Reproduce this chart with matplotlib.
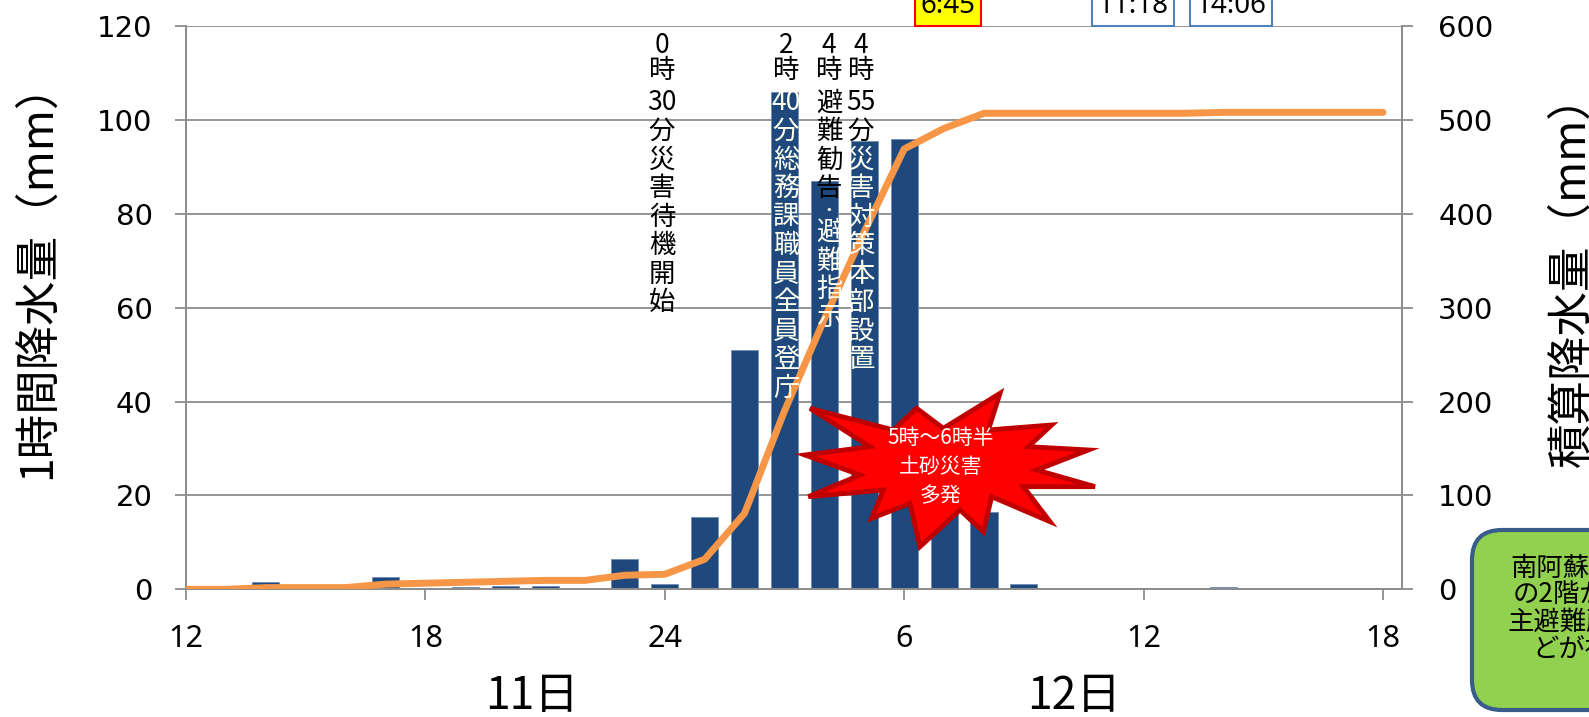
import matplotlib
matplotlib.use("Agg")
import matplotlib.pyplot as plt
from matplotlib.patches import Polygon, FancyBboxPatch

plt.rcParams["font.family"] = ["Noto Sans CJK JP", "DejaVu Sans"]

# hourly data, 11th 12:00 .. 12th 18:00 (hour 24 = midnight, 30 = 6 am on the 12th)
hours = list(range(12, 43))
hourly_rain = [0, 0, 1.5, 0, 0, 2.6, 0, 0.4, 0.7, 0.8, 0, 6.5, 1.1, 15.5, 51.0,
               106.0, 87.0, 95.5, 96.0, 23.0, 16.5, 1.1, 0, 0, 0, 0, 0.5, 0, 0, 0, 0]
cumulative_rain = [0, 0, 1.8, 1.8, 1.8, 5.5, 6.5, 7.5, 8.5, 9.5, 9.5, 15, 16, 32, 81,
                   190, 288, 381, 469, 491, 507, 507, 507, 507, 507, 507, 508, 508, 508, 508, 508]

x_ticks = [12, 18, 24, 30, 36, 42]
x_tick_labels = ["12", "18", "24", "6", "12", "18"]
left_ticks = [0, 20, 40, 60, 80, 100, 120]
right_ticks = [0, 100, 200, 300, 400, 500, 600]

# vertical notes: (column x px, characters, how many are drawn in black)
notes = [
    (662, ["0", "時", "30", "分", "災", "害", "待", "機", "開", "始"], 10),
    (786, ["2", "時", "40", "分", "総", "務", "課", "職", "員", "全", "員", "登", "庁"], 2),
    (829, ["4", "時", "避", "難", "勧", "告", "・", "避", "難", "指", "示"], 6),
    (861, ["4", "時", "55", "分", "災", "害", "対", "策", "本", "部", "設", "置"], 4),
]
time_boxes = [("6:45", 948, "#FFFF00", "#FF0000"),
              ("11:18", 1133, "white", "#4F81BD"),
              ("14:06", 1231, "white", "#4F81BD")]
note_lines = [("南阿蘇村の", 1510, 568), ("の2階が浸水", 1513, 595),
              ("主避難所な", 1508, 622), ("どが被災", 1532, 649)]

W, H = 1589, 717
fig = plt.figure(figsize=(W / 100, H / 100), dpi=100)


def fx(px):
    return px / W


def fy(py):
    return 1 - py / H


ax = fig.add_axes([fx(186), fy(589.3), fx(1402) - fx(186), fy(26) - fy(589.3)])
ax2 = ax.twinx()

ax.bar(hours, hourly_rain, width=0.68, color="#1F497D", edgecolor="#6F8DB5",
       linewidth=0.6, zorder=2)
ax2.plot(hours, cumulative_rain, color="#F79646", lw=5, solid_capstyle="round",
         solid_joinstyle="round", zorder=3)

ax.set_xlim(12, 12 + (1402 - 186) / 39.9)
ax.set_ylim(0, 120)
ax2.set_ylim(0, 600)
ax.set_xticks(x_ticks)
ax.set_xticklabels(x_tick_labels, fontsize=22, family=["Noto Sans", "DejaVu Sans"])
ax.set_yticks(left_ticks)
ax.set_yticklabels([str(v) for v in left_ticks], fontsize=21, family="DejaVu Sans")
ax2.set_yticks(right_ticks)
ax2.set_yticklabels([str(v) for v in right_ticks], fontsize=21, family="DejaVu Sans")

grey = "#8C8C8C"
ax.yaxis.grid(True, color=grey, lw=1.3)
ax.set_axisbelow(True)
for a in (ax, ax2):
    a.spines["top"].set_visible(False)
    for s in ("left", "right", "bottom"):
        a.spines[s].set_color(grey)
        a.spines[s].set_linewidth(1.3)
ax.tick_params(axis="x", direction="out", length=8, width=1.3, color=grey, pad=17)
ax.tick_params(axis="y", direction="out", length=8, width=1.3, color=grey, pad=16)
ax2.tick_params(axis="y", direction="out", length=8, width=1.3, color=grey, pad=18)

# axis titles
fig.text(fx(37), fy(270), "1時間降水量（mm）", rotation=90, fontsize=32,
         ha="center", va="center")
fig.text(fx(1572), fy(270), "積算降水量（mm）", rotation=90, fontsize=32,
         ha="center", va="center")
fig.text(fx(532), fy(696), "11日", fontsize=32, ha="center", va="center")
fig.text(fx(1074), fy(696), "12日", fontsize=32, ha="center", va="center")

# vertical event notes
for col_x, chars, n_black in notes:
    ys = [45.5, 71, 103]
    for i in range(3, len(chars)):
        if chars[i] == "・" or chars[i - 1] == "・":
            step = 22
        else:
            step = 28.5
        ys.append(ys[-1] + step)
    for i, ch in enumerate(chars):
        color = "black" if i < n_black else "#FFFFF0"
        size = 12 if ch == "・" else 19
        fig.text(fx(col_x), fy(ys[i]), ch, fontsize=size, color=color,
                 ha="center", va="center", zorder=5)

# time boxes cut by the top edge
for label, px, fc, ec in time_boxes:
    fig.text(fx(px), fy(6), label, fontsize=20, ha="center", va="center",
             family=["Noto Sans", "DejaVu Sans"],
             bbox=dict(boxstyle="square,pad=0.2", fc=fc, ec=ec, lw=1.5), zorder=5)

# explosion shape
star_px = [(710, 325), (790, 385), (960, 280), (925, 390), (1115, 375), (1045, 440),
           (1225, 450), (1070, 510), (1245, 560), (1030, 560), (1110, 665), (935, 590),
           (910, 695), (840, 630), (720, 740), (690, 610), (575, 655), (610, 570),
           (385, 590), (540, 525), (375, 465), (570, 440), (390, 325), (640, 390)]
star = Polygon([(fx(680 + x / 3), fy(300 + y / 3)) for x, y in star_px], closed=True,
               transform=fig.transFigure, fc="#FF0000", ec="#C00000", lw=3.5,
               joinstyle="miter", zorder=6)
fig.patches.append(star)
fig.text(fx(941), fy(467), "5時～6時半\n土砂災害\n多発", fontsize=15, color="white",
         ha="center", va="center", linespacing=1.42, zorder=7)

# green note box at the right edge (pixel units)
box = FancyBboxPatch((1472, H - 710), 400, 180,
                     boxstyle="round,pad=0,rounding_size=30",
                     transform=None, fc="#92D050", ec="#385D8A", lw=3, zorder=6)
fig.patches.append(box)
for text, px, py in note_lines:
    fig.text(fx(px), fy(py), text, fontsize=19, ha="left", va="center", zorder=7)

fig.savefig("out.png", dpi=100)
